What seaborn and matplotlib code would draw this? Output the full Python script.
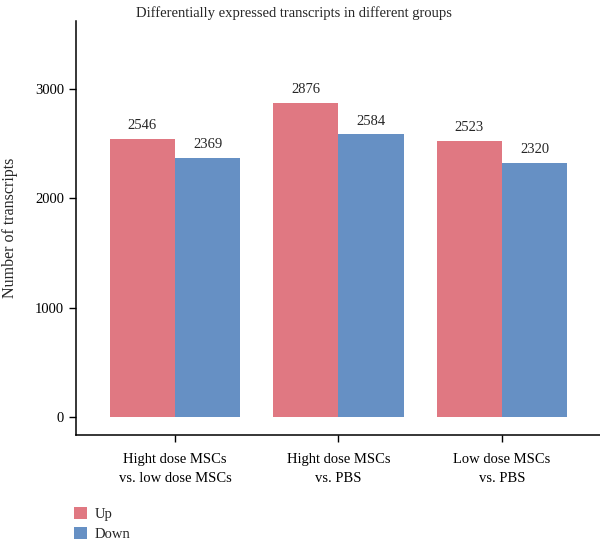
import matplotlib
matplotlib.use("Agg")
import matplotlib.pyplot as plt
import seaborn as sns
import pandas as pd

# data
groups = ["Hight dose MSCs\nvs. low dose MSCs", "Hight dose MSCs\nvs. PBS", "Low dose MSCs\nvs. PBS"]
up_counts = [2546, 2876, 2523]
down_counts = [2369, 2584, 2320]
directions = ["Up", "Down"]
yticks = [0, 1000, 2000, 3000]

df = pd.DataFrame({
    "group": groups * 2,
    "direction": ["Up"] * 3 + ["Down"] * 3,
    "count": up_counts + down_counts,
})

sns.set_style("ticks")
plt.rcParams['font.family'] = ['Liberation Serif', 'DejaVu Serif']
plt.rcParams['font.size'] = 10.5

palette = {"Up": "#e07882", "Down": "#6690c4"}

fig = plt.figure(figsize=(6.0, 5.41), dpi=100)
ax = fig.add_axes([76 / 600, 106 / 541, 524 / 600, 414 / 541])

sns.barplot(data=df, x="group", y="count", hue="direction", hue_order=directions,
            palette=palette, width=0.8, saturation=1, linewidth=0, ax=ax, legend=False)

for cont in ax.containers:
    ax.bar_label(cont, fmt="%d", padding=5, fontsize=10.5)

ax.set_xlim(-0.605, 2.6)
ax.set_ylim(-165, 3622)
ax.set_yticks(yticks)
ax.set_xlabel("")
ax.set_ylabel("Number of transcripts", fontsize=11.5, va="center")
ax.yaxis.set_label_coords(-0.126, 0.5)
ax.tick_params(axis="both", direction="out", length=5, width=1, colors="black", labelsize=10.5)
ax.tick_params(axis="x", pad=8)
for side in ["top", "right"]:
    ax.spines[side].set_visible(False)
for side in ["left", "bottom"]:
    ax.spines[side].set_linewidth(1.1)
    ax.spines[side].set_color("black")
for lbl in ax.get_xticklabels():
    lbl.set_linespacing(1.55)

fig.text(0.49, 1 - 13 / 541, "Differentially expressed transcripts in different groups",
         ha="center", va="center", fontsize=10.5)

from matplotlib.patches import Patch
handles = [Patch(facecolor=palette[d], edgecolor="none", label=d) for d in directions]
fig.legend(handles=handles, loc="upper left", bbox_to_anchor=(68 / 600, 1 - 501 / 541),
           frameon=False, handlelength=0.9, handleheight=0.9, handletextpad=0.5,
           labelspacing=0.4, fontsize=10.5, borderaxespad=0)

fig.savefig("out.png", dpi=100)
